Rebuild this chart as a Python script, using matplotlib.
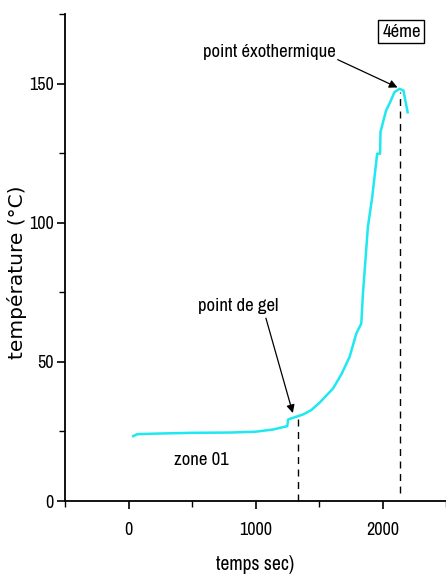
# température vs temps - 4éme
import matplotlib
matplotlib.use("Agg")
import matplotlib.pyplot as plt
from matplotlib.ticker import MultipleLocator

# Data
temps = [37, 68, 200, 500, 800, 1001, 1140, 1250, 1257, 1323, 1375, 1440, 1506,
         1610, 1676, 1741, 1794, 1833, 1846, 1885, 1919, 1958, 1981, 1984,
         2028, 2060, 2094, 2133, 2165, 2180, 2198]
temperature = [23.3, 24.0, 24.2, 24.5, 24.6, 24.9, 25.7, 26.9, 29.3, 30.3, 31.1,
               32.7, 35.4, 40.4, 45.5, 51.8, 60.2, 63.8, 74.5, 98.5, 109.2, 124.8,
               124.8, 132.6, 140.3, 143.3, 146.9, 148.1, 147.5, 143.9, 139.7]

gel_t, gel_T = 1331, 30.5
exo_t, exo_T = 2139, 147.0

narrow = ['Archivo Narrow', 'DejaVu Sans']

fig = plt.figure(figsize=(4.46, 5.79), dpi=100)
ax = fig.add_axes([65 / 446, 78 / 579, 1 - 65 / 446, (501 - 14) / 579])

ax.plot(temps, temperature, color='#1ee8f0', lw=1.8)

# dashed markers
ax.plot([gel_t, gel_t], [0, gel_T], color='black', ls=(0, (5, 4)), lw=1)
ax.plot([exo_t, exo_t], [3, exo_T], color='black', ls=(0, (5, 4)), lw=1)

ax.set_xlim(-500, 2500)
ax.set_ylim(0, 175)
ax.xaxis.set_major_locator(MultipleLocator(1000))
ax.xaxis.set_minor_locator(MultipleLocator(500))
ax.yaxis.set_major_locator(MultipleLocator(50))
ax.yaxis.set_minor_locator(MultipleLocator(25))

for s in ['top', 'right']:
    ax.spines[s].set_visible(False)
for s in ['left', 'bottom']:
    ax.spines[s].set_linewidth(1.3)

ax.tick_params(which='major', direction='out', length=6, width=1.2, pad=2)
ax.tick_params(axis='x', which='major', pad=9)
ax.tick_params(which='minor', direction='out', length=4, width=1.0)
ax.set_xticks([0, 1000, 2000])
for lab in ax.get_xticklabels() + ax.get_yticklabels():
    lab.set_family(narrow)
    lab.set_fontsize(13)

ax.set_xlabel('temps sec)', family=narrow, fontsize=14, va='center')
ax.xaxis.set_label_coords(0.5, -0.131)
ax.set_ylabel('température (°C)', family='DejaVu Sans', fontsize=14.5, va='center')
ax.yaxis.set_label_coords(-0.126, 0.47)

# annotations
arrow = dict(arrowstyle='-|>', color='black', lw=0.9, mutation_scale=12,
             shrinkA=0, shrinkB=0)
ax.text(1110, 161.2, 'point éxothermique', ha='center', va='center',
        family=narrow, fontsize=13.5)
ax.annotate('', xy=(2118, 148.6), xytext=(1647, 158.6), arrowprops=arrow)
ax.text(863, 70, 'point de gel', ha='center', va='center',
        family=narrow, fontsize=13.5)
ax.annotate('', xy=(1294, 31.6), xytext=(1082, 65.7), arrowprops=arrow)
ax.text(573, 14.7, 'zone 01', ha='center', va='center', family=narrow, fontsize=13.5)
ax.text(2149, 168.7, '4éme', ha='center', va='center', family=narrow, fontsize=13.5,
        bbox=dict(boxstyle='square,pad=0.2', fc='white', ec='black', lw=1))

fig.savefig('out.png', dpi=100)
